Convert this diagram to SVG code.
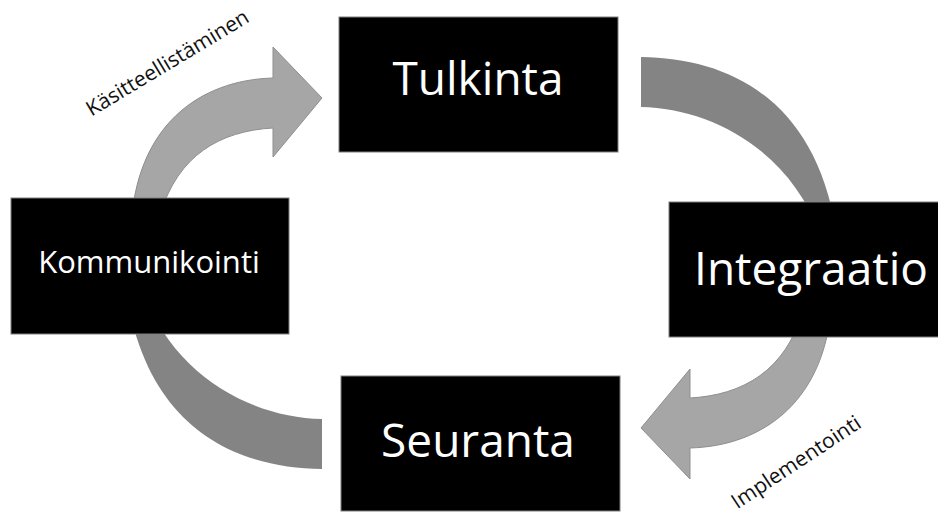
<svg xmlns="http://www.w3.org/2000/svg" width="938" height="517" viewBox="0 0 938 517">
  <style>
    .box { fill: #000000; stroke: #7f7f7f; stroke-width: 1; }
    .big { font-family: "Open Sans", "Liberation Sans", sans-serif; font-size: 46px; fill: #ffffff; text-anchor: middle; }
    .mid { font-family: "Open Sans", "Liberation Sans", sans-serif; font-size: 31px; fill: #ffffff; text-anchor: middle; }
    .lbl { font-family: "Open Sans", "Liberation Sans", sans-serif; font-size: 21px; fill: #111111; text-anchor: middle; }
    .bent { fill: #a6a6a6; stroke: #8f8f8f; stroke-width: 1; }
    .band { fill: #848484; }
  </style>
  <defs>
    <!-- curved arrow rising from the left node to the top node -->
    <path id="bentArrow" d="M131,230 C135,125 200,80 273,78 L273,47 L322,98 L273,157 L273,128 C220,131 178,155 160,215 Z"/>
    <!-- plain curved band from the top node down to the right node -->
    <path id="arcBand" d="M641,57 C730,58 815,100 836,230 L820,235 C790,150 710,108 641,107 Z"/>
  </defs>

  <g id="connectors">
    <use href="#bentArrow" class="bent"/>
    <use href="#arcBand" class="band"/>
    <use href="#bentArrow" class="bent" transform="rotate(180 481.5 263)"/>
    <use href="#arcBand" class="band" transform="rotate(180 481.5 263)"/>
    <text class="lbl" transform="translate(171 69) rotate(-31)">Käsitteellistäminen</text>
    <text class="lbl" transform="translate(800 468) rotate(-33.5)">Implementointi</text>
  </g>

  <g id="tulkinta">
    <rect class="box" x="339" y="17" width="279" height="135"/>
    <text class="big" x="478" y="95">Tulkinta</text>
  </g>

  <g id="integraatio">
    <rect class="box" x="669" y="202" width="280" height="135"/>
    <text class="big" x="811" y="285">Integraatio</text>
  </g>

  <g id="seuranta">
    <rect class="box" x="341" y="376" width="279" height="135"/>
    <text class="big" x="478" y="457">Seuranta</text>
  </g>

  <g id="kommunikointi">
    <rect class="box" x="11" y="198" width="278" height="136"/>
    <text class="mid" x="149" y="273">Kommunikointi</text>
  </g>
</svg>
